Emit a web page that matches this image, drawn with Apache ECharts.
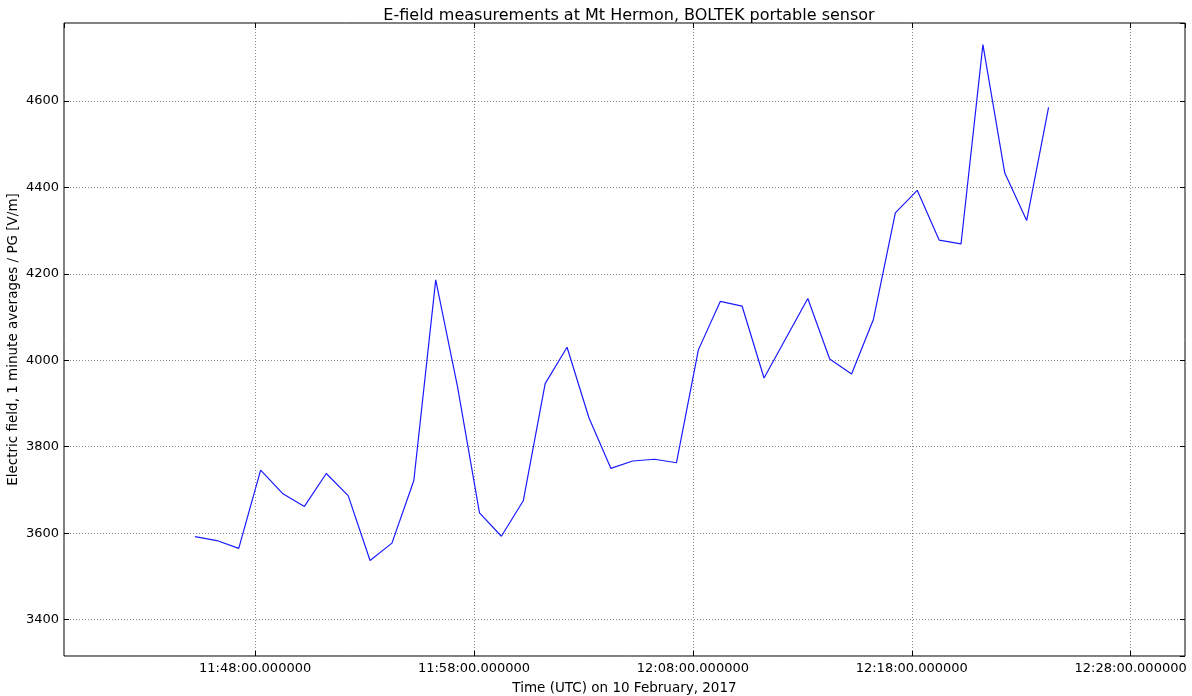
<!DOCTYPE html>
<html lang="en">
  <head>
    <meta charset="UTF-8">
    <title>E-field Mt Hermon</title>
    <script src="https://cdn.jsdelivr.net/npm/echarts@6/dist/echarts.min.js"></script>
    <style>
      html, body { margin: 0; padding: 0; background: #fff; }
      #chart { width: 1192px; height: 696px; }
    </style>
  </head>
  <body>
    <div id="chart"></div>
    <script>
      // 1 minute averages, 10 February 2017 (UTC)
      const times = [
        '11:45:15', '11:46:15', '11:47:15', '11:48:15', '11:49:15', '11:50:15', '11:51:15', '11:52:15',
        '11:53:15', '11:54:15', '11:55:15', '11:56:15', '11:57:15', '11:58:15', '11:59:15', '12:00:15',
        '12:01:15', '12:02:15', '12:03:15', '12:04:15', '12:05:15', '12:06:15', '12:07:15', '12:08:15',
        '12:09:15', '12:10:15', '12:11:15', '12:12:15', '12:13:15', '12:14:15', '12:15:15', '12:16:15',
        '12:17:15', '12:18:15', '12:19:15', '12:20:15', '12:21:15', '12:22:15', '12:23:15', '12:24:15'
      ]
      const efield = [
        3592, 3583, 3565, 3746, 3692, 3662, 3738, 3687,
        3537, 3577, 3722, 4186, 3938, 3647, 3593, 3675,
        3946, 4030, 3867, 3750, 3767, 3771, 3763, 4024,
        4136, 4125, 3959, 4051, 4143, 4003, 3968, 4095,
        4341, 4393, 4278, 4269, 4730, 4433, 4323, 4585
      ]
      const xTickLabels = ['11:48:00.000000', '11:58:00.000000', '12:08:00.000000', '12:18:00.000000', '12:28:00.000000']

      // x is minutes after 11:38 so the 10 minute ticks land on 11:48, 11:58 ...
      const baseMin = 11 * 60 + 38
      const toX = t => {
        const p = t.split(':').map(Number)
        return p[0] * 60 + p[1] + p[2] / 60 - baseMin
      }
      const data = times.map((t, i) => [toX(t), efield[i]])

      const xMin = toX('11:39:16')
      const xMax = toX('12:30:29')
      const yMin = 3316
      const yMax = 4780

      const font = 'DejaVu Sans'
      const tick = { show: true, inside: true, length: 5, lineStyle: { color: '#000', width: 1 } }
      const grid = { show: true, type: [1, 2], color: '#8a8a8a', width: 1 }

      const chart = echarts.init(document.getElementById('chart'))
      chart.setOption({
        animation: false,
        backgroundColor: '#fff',
        textStyle: { fontFamily: font, color: '#000' },
        title: {
          text: 'E-field measurements at Mt Hermon, BOLTEK portable sensor',
          left: 624, top: 3, textAlign: 'center',
          textStyle: { fontFamily: font, fontSize: 16, fontWeight: 'normal', color: '#000' }
        },
        grid: {
          left: 64, right: 7, top: 23, bottom: 40,
          containLabel: false, outerBoundsMode: 'none',
          show: true, borderColor: '#000', borderWidth: 1, backgroundColor: '#fff'
        },
        xAxis: [{
          type: 'value', min: xMin, max: xMax,
          minInterval: 10, maxInterval: 10,
          name: 'Time (UTC) on 10 February, 2017',
          nameLocation: 'middle', nameGap: 25, nameMoveOverlap: false,
          nameTextStyle: { fontFamily: font, fontSize: 13.5, color: '#000' },
          axisLine: { show: false },
          axisTick: tick,
          splitLine: { show: true, lineStyle: grid },
          axisLabel: {
            fontFamily: font, fontSize: 13, color: '#000', margin: 6,
            showMinLabel: false, showMaxLabel: false,
            formatter: v => xTickLabels[Math.round(v / 10) - 1] || ''
          }
        }, {
          type: 'value', position: 'top', min: xMin, max: xMax,
          minInterval: 10, maxInterval: 10,
          axisLine: { show: false }, axisTick: tick,
          axisLabel: { show: false }, splitLine: { show: false }
        }],
        yAxis: [{
          type: 'value', min: yMin, max: yMax,
          minInterval: 200, maxInterval: 200,
          name: 'Electric field, 1 minute averages / PG [V/m]',
          nameLocation: 'middle', nameGap: 44, nameRotate: 90, nameMoveOverlap: false,
          nameTextStyle: { fontFamily: font, fontSize: 13.5, color: '#000' },
          axisLine: { show: false },
          axisTick: tick,
          splitLine: { show: true, lineStyle: grid },
          axisLabel: {
            fontFamily: font, fontSize: 13, color: '#000', margin: 5,
            showMinLabel: false, showMaxLabel: false,
            formatter: v => String(v)
          }
        }, {
          type: 'value', position: 'right', min: yMin, max: yMax,
          minInterval: 200, maxInterval: 200,
          axisLine: { show: false }, axisTick: tick,
          axisLabel: { show: false }, splitLine: { show: false }
        }],
        series: [{
          type: 'line',
          data: data,
          xAxisIndex: 0, yAxisIndex: 0,
          showSymbol: false,
          lineStyle: { color: '#1a1aff', width: 1.2 },
          itemStyle: { color: '#1a1aff' }
        }]
      })
    </script>
  </body>
</html>
